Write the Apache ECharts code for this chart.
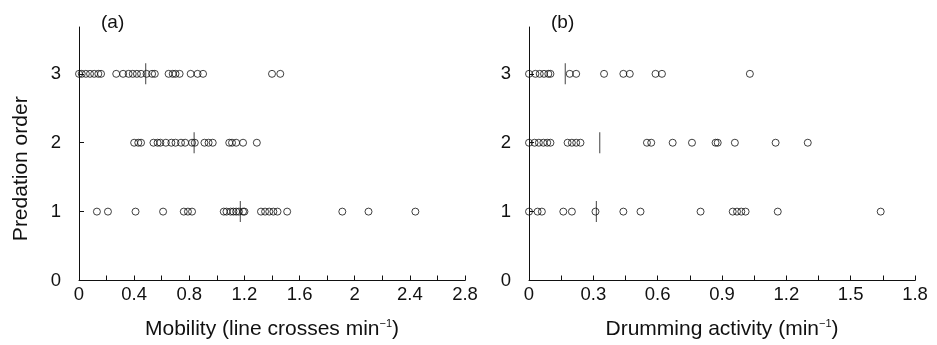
<!DOCTYPE html>
<html>
<head>
<meta charset="utf-8">
<script src="https://cdn.jsdelivr.net/npm/echarts@6/dist/echarts.min.js"></script>
<style>
  html, body { margin: 0; padding: 0; background: #fff; }
  #chart { width: 937px; height: 345px; }
</style>
</head>
<body>
<div id="chart"></div>
<script>
// predation order rows (y)
const rows = [1, 2, 3];

// (a) mobility, line crosses per minute, one array per predation order
const mobility1 = [0.13, 0.21, 0.41, 0.61, 0.76, 0.79, 0.82, 1.05, 1.07, 1.10, 1.12, 1.14, 1.16, 1.19, 1.20,
  1.32, 1.35, 1.38, 1.41, 1.44, 1.51, 1.91, 2.10, 2.44];
const mobility2 = [0.40, 0.43, 0.45, 0.54, 0.57, 0.59, 0.63, 0.67, 0.70, 0.74, 0.77, 0.82, 0.84,
  0.91, 0.94, 0.97, 1.09, 1.11, 1.14, 1.19, 1.29];
const mobility3 = [0, 0.02, 0.05, 0.08, 0.11, 0.14, 0.16, 0.27, 0.32, 0.36, 0.39, 0.42, 0.45, 0.49,
  0.53, 0.55, 0.65, 0.68, 0.70, 0.73, 0.81, 0.86, 0.90, 1.40, 1.46];
// vertical bars (row 1, 2, 3)
const mobilityMarks = [1.17, 0.835, 0.484];

// (b) drumming activity per minute
const drumming1 = [0, 0.04, 0.06, 0.16, 0.20, 0.31, 0.44, 0.52, 0.80, 0.95, 0.97, 0.99, 1.01, 1.16, 1.64];
const drumming2 = [0, 0.026, 0.046, 0.067, 0.085, 0.10, 0.18, 0.20, 0.22, 0.24, 0.55, 0.57, 0.67,
  0.76, 0.87, 0.88, 0.96, 1.15, 1.30];
const drumming3 = [0, 0.03, 0.05, 0.07, 0.09, 0.10, 0.19, 0.22, 0.35, 0.44, 0.47, 0.59, 0.62, 1.03];
const drummingMarks = [0.314, 0.33, 0.169];

// tick labels
const yLabels = [0, 1, 2, 3];
const mobilityLabels = [0, 0.4, 0.8, 1.2, 1.6, 2, 2.4, 2.8];
const mobilityTicks = [0, 0.2, 0.4, 0.6, 0.8, 1, 1.2, 1.4, 1.6, 1.8, 2, 2.2, 2.4, 2.6, 2.8];
const drummingLabels = [0, 0.3, 0.6, 0.9, 1.2, 1.5, 1.8];
const drummingTicks = [0, 0.15, 0.3, 0.45, 0.6, 0.75, 0.9, 1.05, 1.2, 1.35, 1.5, 1.65, 1.8];

const FONT = '"Liberation Sans", Arial, Helvetica, sans-serif';
const INK = '#111';

const chart = echarts.init(document.getElementById('chart'));

function pts(values, row) {
  return values.map(v => [v, row]);
}

function xAxisFor(idx, max, labels, ticks, title) {
  return {
    type: 'value',
    gridIndex: idx,
    min: 0,
    max: max,
    name: title,
    nameLocation: 'middle',
    nameGap: 38,
    nameTextStyle: {
      fontFamily: FONT, fontSize: 21, color: INK,
      rich: { sup: { fontFamily: FONT, fontSize: 11, color: INK, padding: [0, 0, 11, 0] } }
    },
    axisLine: { show: true, lineStyle: { color: INK, width: 1 } },
    axisTick: { show: true, inside: true, length: 5, lineStyle: { color: INK }, customValues: ticks },
    axisLabel: { fontFamily: FONT, fontSize: 18.5, color: INK, margin: 5, customValues: labels },
    splitLine: { show: false }
  };
}

function yAxisFor(idx, title) {
  return {
    type: 'value',
    gridIndex: idx,
    min: 0,
    max: 3.68,
    name: title,
    nameLocation: 'middle',
    nameGap: 47,
    // right padding nudges the rotated name down a little
    nameTextStyle: { fontFamily: FONT, fontSize: 21, color: INK, padding: [0, 30, 0, 0] },
    axisLine: { show: true, lineStyle: { color: INK, width: 1 } },
    axisTick: { show: true, inside: true, length: 5, lineStyle: { color: INK }, customValues: [1, 2, 3] },
    axisLabel: { fontFamily: FONT, fontSize: 18.5, color: INK, margin: 18, customValues: yLabels },
    splitLine: { show: false }
  };
}

function circles(idx, data) {
  return {
    type: 'scatter',
    xAxisIndex: idx,
    yAxisIndex: idx,
    symbol: 'circle',
    symbolSize: 7,
    itemStyle: { color: 'rgba(0,0,0,0)', borderColor: INK, borderWidth: 1 },
    silent: true,
    data: data
  };
}

function bars(idx, marks) {
  return {
    type: 'scatter',
    xAxisIndex: idx,
    yAxisIndex: idx,
    symbol: 'rect',
    symbolSize: [1, 21],
    itemStyle: { color: INK },
    silent: true,
    z: 3,
    data: marks.map((v, i) => [v, rows[i]])
  };
}

chart.setOption({
  animation: false,
  backgroundColor: '#fff',
  title: [
    { text: '(a)', left: 96, top: 8, textStyle: { fontFamily: FONT, fontSize: 19, fontWeight: 'normal', color: INK } },
    { text: '(b)', left: 546, top: 8, textStyle: { fontFamily: FONT, fontSize: 19, fontWeight: 'normal', color: INK } }
  ],
  grid: [
    { left: 79, top: 27, width: 386, height: 254 },
    { left: 529, top: 27, width: 386, height: 254 }
  ],
  xAxis: [
    xAxisFor(0, 2.8, mobilityLabels, mobilityTicks, 'Mobility (line crosses min{sup|−1})'),
    xAxisFor(1, 1.8, drummingLabels, drummingTicks, 'Drumming activity (min{sup|−1})')
  ],
  yAxis: [
    yAxisFor(0, 'Predation order'),
    yAxisFor(1, '')
  ],
  series: [
    circles(0, pts(mobility1, 1)),
    circles(0, pts(mobility2, 2)),
    circles(0, pts(mobility3, 3)),
    bars(0, mobilityMarks),
    circles(1, pts(drumming1, 1)),
    circles(1, pts(drumming2, 2)),
    circles(1, pts(drumming3, 3)),
    bars(1, drummingMarks)
  ]
});
</script>
</body>
</html>
